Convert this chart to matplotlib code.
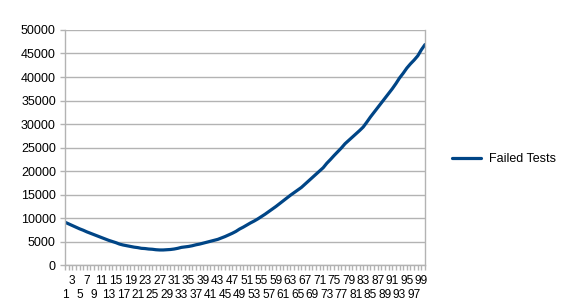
import matplotlib
matplotlib.use('Agg')
import matplotlib.pyplot as plt
import numpy as np

# x categories (test runs 1..100)
categories = list(range(1, 101))

failed_tests = [
    9100, 8750, 8400, 8050, 7700, 7400, 7050, 6750, 6450, 6150,
    5850, 5550, 5250, 5000, 4750, 4450, 4250, 4100, 3950, 3800,
    3700, 3550, 3500, 3400, 3350, 3250, 3200, 3200, 3250, 3300,
    3400, 3550, 3750, 3850, 3950, 4100, 4300, 4450, 4650, 4850,
    5050, 5250, 5450, 5750, 6050, 6400, 6750, 7150, 7650, 8050,
    8500, 8950, 9350, 9800, 10300, 10800, 11350, 11900, 12450, 13050,
    13650, 14250, 14850, 15400, 15950, 16500, 17200, 17900, 18600, 19300,
    20000, 20700, 21650, 22450, 23300, 24100, 24900, 25800, 26500, 27200,
    27900, 28600, 29350, 30400, 31500, 32500, 33500, 34500, 35500, 36500,
    37500, 38600, 39800, 40800, 41900, 42800, 43600, 44500, 45800, 46900,
]

y_ticks = list(range(0, 50001, 5000))

plt.rcParams['font.family'] = ['Liberation Sans', 'DejaVu Sans']

fig = plt.figure(figsize=(5.61, 3.08), dpi=100)
ax = fig.add_axes([0.1159, 0.1396, 0.7576 - 0.1159, 0.9026 - 0.1396])

ax.plot(categories, failed_tests, color='#004586', lw=2.3, label='Failed Tests',
        solid_capstyle='round', solid_joinstyle='round')

ax.set_xlim(1, 100)
ax.set_ylim(0, 50000)
ax.set_yticks(y_ticks)
ax.set_yticklabels([str(v) for v in y_ticks])
ax.yaxis.grid(True, color='#b3b3b3', lw=1)
ax.set_axisbelow(True)

# labels on every second category
odd = categories[0::2]
ax.set_xticks(odd)
ax.set_xticklabels([str(c) for c in odd])
ax.set_xticks(categories[1::2], minor=True)

ax.spines['top'].set_visible(False)
for s in ['left', 'bottom', 'right']:
    ax.spines[s].set_color('#b3b3b3')
    ax.spines[s].set_linewidth(1)

ax.tick_params(axis='both', which='both', color='#b3b3b3', length=3.6, width=1,
               labelsize=9, labelcolor='black')
ax.tick_params(axis='x', pad=3.5, labelsize=8.6)
ax.tick_params(axis='y', pad=3)

# stagger labels over two rows: 1,5,9.. below, 3,7,11.. above
for k, t in enumerate(ax.xaxis.get_major_ticks()):
    if k % 2 == 0:
        t.set_pad(3.5 + 10.3)

ax.legend(loc='center left', bbox_to_anchor=(1.045, 0.451), frameon=False,
          fontsize=9, handlelength=2.3, handletextpad=0.6)

fig.savefig('out.png', dpi=100)
